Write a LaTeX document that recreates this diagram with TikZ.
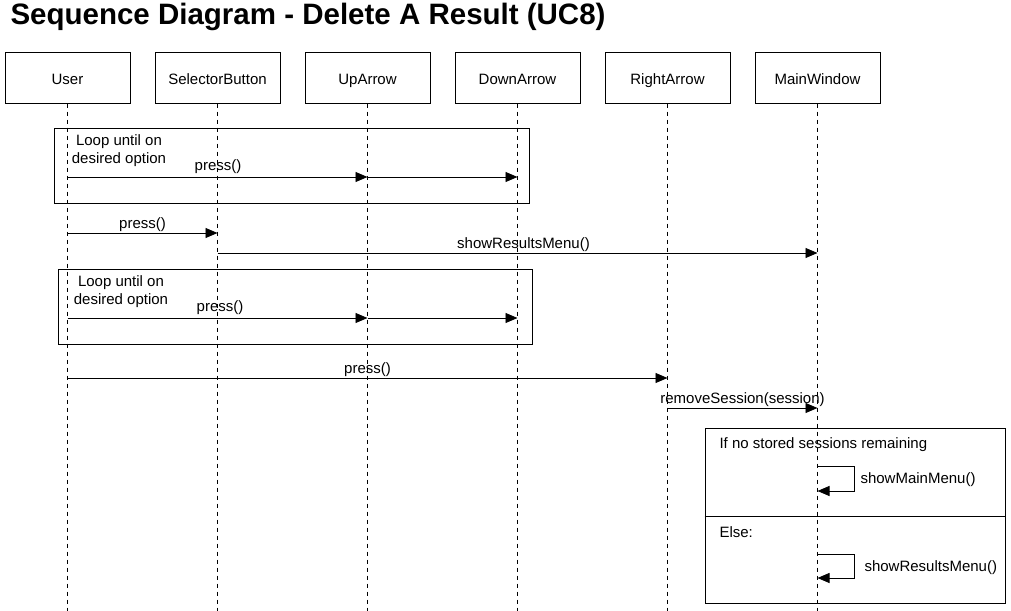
\documentclass[tikz,border=0pt]{standalone}
\usepackage{fontspec}
\setmainfont{Liberation Sans}
\usetikzlibrary{arrows.meta}

\begin{document}
\begin{tikzpicture}[x=1pt,y=-1pt,font=\fontsize{15}{18}\selectfont,
  obj/.style={draw,shape=rectangle,minimum width=125pt,minimum height=50pt,line width=1pt,text height=13pt,text depth=1pt},
  frame/.style={draw,shape=rectangle,line width=1pt,inner sep=0pt},
  life/.style={dashed,dash pattern=on 4pt off 4pt,line width=0.9pt},
  msg/.style={-{Triangle[length=12pt,width=10pt]},line width=0.9pt}]
\useasboundingbox (0,0) rectangle (1011,610);
\node[anchor=west,font=\bfseries\fontsize{29.5}{34}\selectfont] (title) at (7,17) {Sequence Diagram - Delete A Result (UC8)};
% objects
\node[obj] (user) at (67.5,78) {User};
\node[obj] (sel) at (217.5,78) {SelectorButton};
\node[obj] (up) at (367.5,78) {UpArrow};
\node[obj] (down) at (517.5,78) {DownArrow};
\node[obj] (right) at (667.5,78) {RightArrow};
\node[obj] (main) at (817.5,78) {MainWindow};
% lifelines
\foreach \o in {user,sel,up,down,right,main} {
  \coordinate (\o end) at (\o |- 0,612);
  \draw[life] (\o) -- (\o end);
}
% frames
\node[frame,minimum width=475pt,minimum height=75pt] (loop1) at (291.5,165.5) {};
\node[align=center] (loop1txt) at (119,151) {Loop until on\\desired option};
\node[frame,minimum width=474pt,minimum height=75pt] (loop2) at (295,306.5) {};
\node[align=center] (loop2txt) at (121,292) {Loop until on\\desired option};
\node[frame,minimum width=300pt,minimum height=175pt] (alt) at (855,515.5) {};
\coordinate (altl) at (alt.west |- 0,516);
\coordinate (altr) at (alt.east |- 0,516);
\draw[line width=1pt] (altl) -- (altr);
\node[anchor=west] (iftxt) at (716,445) {If no stored sessions remaining};
\node[anchor=west] (elsetxt) at (716,532) {Else:};
% message ends
\coordinate (m1a) at (user |- 0,177);
\coordinate (m1b) at (up |- 0,177);
\coordinate (m1c) at (down |- 0,177);
\coordinate (m2a) at (user |- 0,233);
\coordinate (m2b) at (sel |- 0,233);
\coordinate (m3a) at (sel |- 0,253);
\coordinate (m3b) at (main |- 0,253);
\coordinate (m4a) at (user |- 0,318);
\coordinate (m4b) at (up |- 0,318);
\coordinate (m4c) at (down |- 0,318);
\coordinate (m5a) at (user |- 0,378);
\coordinate (m5b) at (right |- 0,378);
\coordinate (m6a) at (right |- 0,408);
\coordinate (m6b) at (main |- 0,408);
\coordinate (s1a) at (main |- 0,466);
\coordinate (s1b) at (main |- 0,491);
\coordinate (s2a) at (main |- 0,554);
\coordinate (s2b) at (main |- 0,578);
% messages
\draw[msg] (m1a) -- (m1b);
\draw[msg] (m1b) -- (m1c);
\node (m1lbl) at (218,167) {press()};
\draw[msg] (m2a) -- (m2b) node[pos=.5,above=-2pt] {press()};
\draw[msg] (m3a) -- (m3b) node[pos=.51,above=-2pt] {showResultsMenu()};
\draw[msg] (m4a) -- (m4b);
\draw[msg] (m4b) -- (m4c);
\node (m4lbl) at (220,308) {press()};
\draw[msg] (m5a) -- (m5b) node[pos=.5,above=-2pt] {press()};
\draw[msg] (m6a) -- (m6b) node[pos=.5,above=-2pt] {removeSession(session)};
\draw[msg] (s1a) -- ++(37,0) -- ++(0,25) -- (s1b);
\node[anchor=west] (s1lbl) at (857,480) {showMainMenu()};
\draw[msg] (s2a) -- ++(37,0) -- ++(0,24) -- (s2b);
\node[anchor=west] (s2lbl) at (861,568) {showResultsMenu()};
\end{tikzpicture}
\end{document}
